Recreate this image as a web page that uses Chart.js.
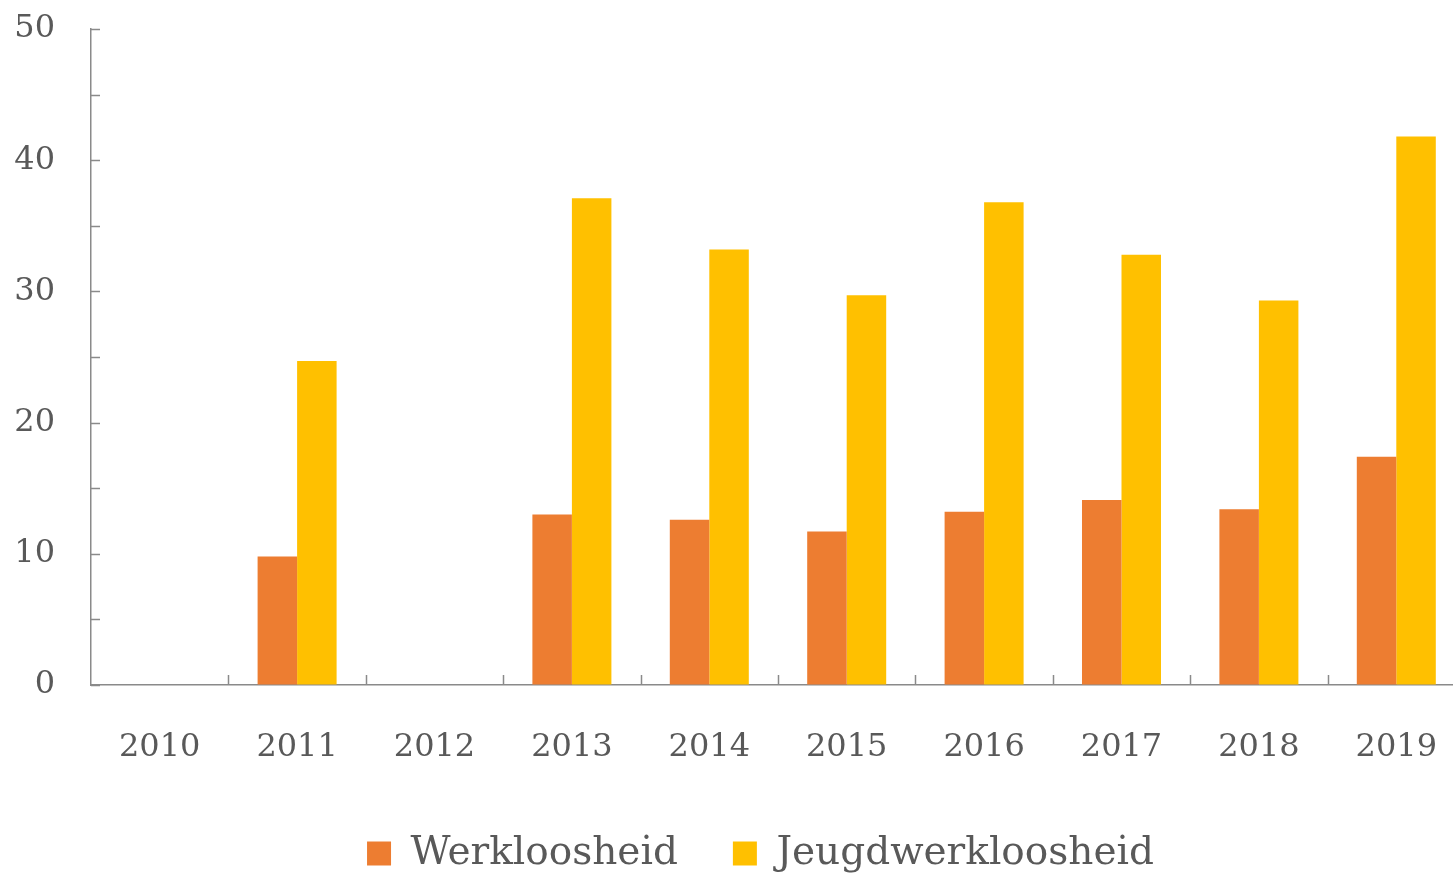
<!DOCTYPE html>
<html>
<head>
<meta charset="utf-8">
<script src="https://cdn.jsdelivr.net/npm/chart.js@4/dist/chart.umd.min.js"></script>
<style>
  body { margin: 0; background: #fff; overflow: hidden; }
  #wrap { width: 1465px; height: 883px; }
</style>
</head>
<body>
<div id="wrap"><canvas id="myChart"></canvas></div>
<script>
// data
const years = ['2010', '2011', '2012', '2013', '2014', '2015', '2016', '2017', '2018', '2019'];
const werkloosheid = [null, 9.8, null, 13.0, 12.6, 11.7, 13.2, 14.1, 13.4, 17.4];
const jeugdwerkloosheid = [null, 24.7, null, 37.1, 33.2, 29.7, 36.8, 32.8, 29.3, 41.8];
const yTicks = [0, 10, 20, 30, 40, 50];

const axisColor = '#8a8a8a';
const textColor = '#595959';
const serif = "'DejaVu Serif', serif";

// small inward tick marks, like the original
const innerTicks = {
  id: 'innerTicks',
  afterLayout(chart) {
    // legend sits a bit right of centre in the original
    chart.legend.left += 28;
    chart.legend.right += 28;
  },
  afterDraw(chart) {
    const ctx = chart.ctx;
    const x = chart.scales.x;
    const y = chart.scales.y;
    ctx.save();
    ctx.strokeStyle = axisColor;
    ctx.lineWidth = 1.5;
    ctx.beginPath();
    for (let v = 0; v <= 50; v += 5) {
      const py = Math.round(y.getPixelForValue(v)) + 0.5;
      ctx.moveTo(x.left, py);
      ctx.lineTo(x.left + 9, py);
    }
    for (let i = 1; i < years.length; i++) {
      const px = Math.round(x.getPixelForValue(i - 0.5)) + 0.5;
      ctx.moveTo(px, y.bottom);
      ctx.lineTo(px, y.bottom - 10);
    }
    ctx.stroke();
    ctx.restore();
  }
};

new Chart(document.getElementById('myChart'), {
  type: 'bar',
  data: {
    labels: years,
    datasets: [
      { label: 'Werkloosheid', data: werkloosheid, backgroundColor: '#ED7D31' },
      { label: 'Jeugdwerkloosheid', data: jeugdwerkloosheid, backgroundColor: '#FFC000' }
    ]
  },
  options: {
    responsive: true,
    maintainAspectRatio: false,
    animation: false,
    layout: { padding: { top: 29, right: 0, bottom: 0, left: 0 } },
    datasets: { bar: { categoryPercentage: 0.575, barPercentage: 1 } },
    plugins: {
      tooltip: { enabled: false },
      legend: {
        position: 'bottom',
        labels: {
          font: { family: serif, size: 39 },
          color: textColor,
          boxWidth: 24,
          boxHeight: 24,
          padding: 55
        }
      }
    },
    scales: {
      x: {
        grid: { display: true, drawOnChartArea: false, drawTicks: false },
        border: { color: axisColor, width: 1.5 },
        ticks: { font: { family: serif, size: 32 }, color: textColor, padding: 43, maxRotation: 0 },
        afterFit(s) { s.height = 94; s.paddingLeft = 0; s.paddingRight = 0; }
      },
      y: {
        min: 0,
        max: 50,
        afterBuildTicks(s) { s.ticks = yTicks.map(v => ({ value: v })); },
        grid: { display: true, drawOnChartArea: false, drawTicks: false },
        border: { color: axisColor, width: 1.5 },
        ticks: { font: { family: serif, size: 32 }, color: textColor, padding: 36 },
        afterFit(s) { s.width = 91; s.paddingTop = 0; s.paddingBottom = 0; }
      }
    }
  },
  plugins: [innerTicks]
});
</script>
</body>
</html>
